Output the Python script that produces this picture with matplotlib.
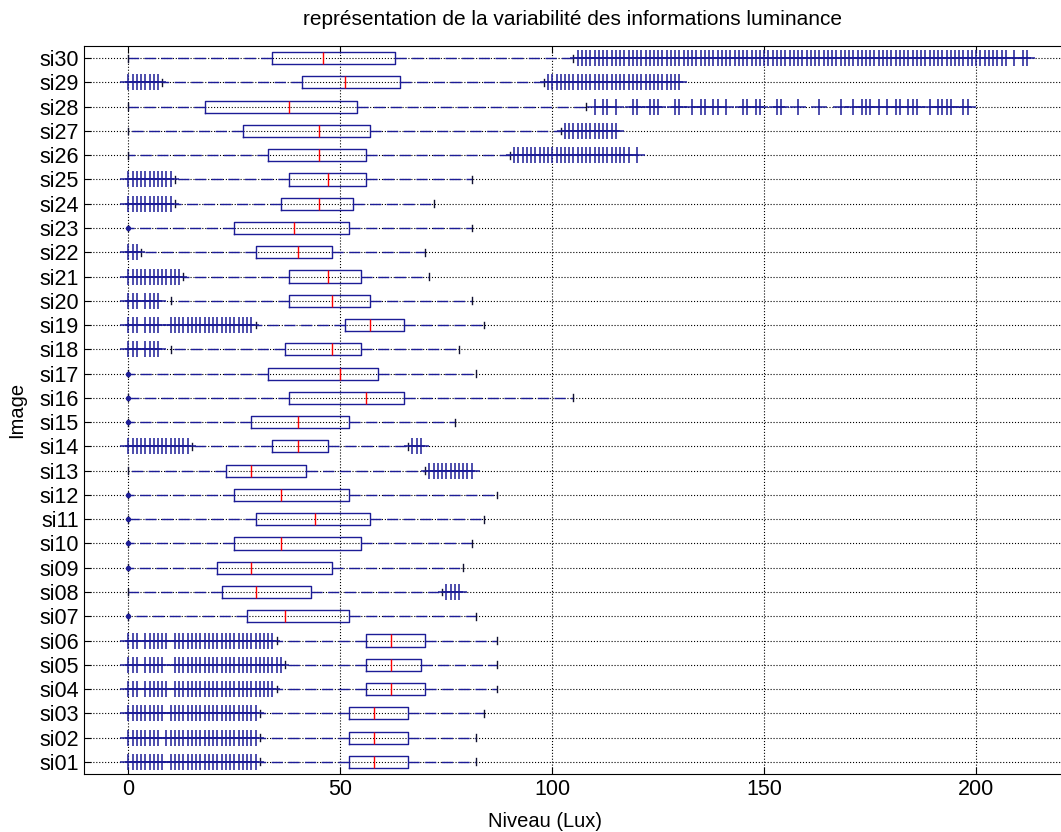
import matplotlib
matplotlib.use('Agg')
import numpy as np
import matplotlib.pyplot as plt

plt.rcParams['font.family'] = ['Liberation Sans', 'DejaVu Sans']

# one entry per image, si01 .. si30 (bottom to top)
labels = ['si%02d' % i for i in range(1, 31)]

whis_lo = [31, 31, 31, 35, 37, 35, 0, 0, 0, 0, 0, 0, 0, 15, 0,
           0, 0, 10, 30, 10, 13, 3, 0, 11, 11, 0, 0, 0, 8, 0]
q1 = [52, 52, 52, 56, 56, 56, 28, 22, 21, 25, 30, 25, 23, 34, 29,
      38, 33, 37, 51, 38, 38, 30, 25, 36, 38, 33, 27, 18, 41, 34]
med = [58, 58, 58, 62, 62, 62, 37, 30, 29, 36, 44, 36, 29, 40, 40,
       56, 50, 48, 57, 48, 47, 40, 39, 45, 47, 45, 45, 38, 51, 46]
q3 = [66, 66, 66, 70, 69, 70, 52, 43, 48, 55, 57, 52, 42, 47, 52,
      65, 59, 55, 65, 57, 55, 48, 52, 53, 56, 56, 57, 54, 64, 63]
whis_hi = [82, 82, 84, 87, 87, 87, 82, 74, 79, 81, 84, 87, 70, 66, 77,
           105, 82, 78, 84, 81, 71, 70, 81, 72, 81, 90, 102, 108, 98, 105]

# outlier levels, given as runs of consecutive integer levels (first, last)
outlier_runs = [
    [(0, 8), (10, 30)],                 # si01
    [(0, 7), (9, 30)],                  # si02
    [(0, 8), (10, 30)],                 # si03
    [(0, 2), (4, 9), (11, 34)],         # si04
    [(0, 2), (4, 8), (11, 36)],         # si05
    [(0, 2), (4, 9), (11, 34)],         # si06
    [],                                 # si07
    [(75, 78)],                         # si08
    [], [], [], [],                     # si09 - si12
    [(71, 81)],                         # si13
    [(0, 14), (67, 69)],                # si14
    [], [], [],                         # si15 - si17
    [(0, 2), (4, 7)],                   # si18
    [(0, 2), (4, 7), (10, 29)],         # si19
    [(0, 2), (4, 7)],                   # si20
    [(0, 12)],                          # si21
    [(0, 2)],                           # si22
    [],                                 # si23
    [(0, 10)],                          # si24
    [(0, 10)],                          # si25
    [(91, 118), (120, 120)],            # si26
    [(103, 115)],                       # si27
    [],                                 # si28 (listed below)
    [(0, 7), (99, 130)],                # si29
    [(106, 207), (209, 209), (211, 212)],  # si30
]
si28_outliers = [110, 112, 113, 115, 119, 120, 123, 124, 125, 129, 130, 133,
                 135, 136, 138, 139, 141, 145, 146, 148, 149, 153, 154, 158,
                 163, 168, 171, 173, 174, 175, 177, 179, 181, 182, 184, 185,
                 186, 189, 191, 192, 193, 194, 197, 198]

# rows whose lower whisker end shows a small dot at 0
zero_dot = ['si07', 'si09', 'si10', 'si11', 'si12', 'si15', 'si16', 'si17', 'si23']

blue = '#1c1c96'

stats = []
for i, name in enumerate(labels):
    fl = []
    for a, b in outlier_runs[i]:
        fl.extend(range(a, b + 1))
    if name == 'si28':
        fl = list(si28_outliers)
    stats.append(dict(label=name, whislo=whis_lo[i], q1=q1[i], med=med[i],
                      q3=q3[i], whishi=whis_hi[i], fliers=np.array(fl, float)))

fig = plt.figure(figsize=(10.61, 8.32), dpi=100)
ax = fig.add_axes([0.0792, 0.0697, 0.9208, 0.875])

ax.bxp(stats, positions=np.arange(1, 31), widths=0.5, capwidths=0.28,
       orientation='horizontal', showfliers=True,
       boxprops=dict(color=blue, linewidth=1.0),
       medianprops=dict(color='red', linewidth=1.0),
       whiskerprops=dict(color=blue, linewidth=1.0, linestyle=(0, (8, 4))),
       capprops=dict(color='#101030', linewidth=1.0),
       flierprops=dict(marker='+', markersize=11, markeredgewidth=1.1,
                       markeredgecolor=blue, linestyle='none'))

for i, name in enumerate(labels):
    if name in zero_dot:
        ax.plot(whis_lo[i], i + 1, 'o', ms=2.8, color=blue, zorder=3)

ax.set_xlim(-10.45, 220.0)
ax.set_ylim(0.5, 30.5)
ax.set_xticks([0, 50, 100, 150, 200])
ax.set_yticks(np.arange(1, 31))
ax.set_yticklabels(labels)
ax.grid(True, linestyle=':', color='k', linewidth=0.8)
ax.set_axisbelow(True)
ax.tick_params(direction='in', length=5, top=True, labelsize=15.5)
ax.spines['right'].set_visible(False)

ax.set_title('représentation de la variabilité des informations luminance',
             fontsize=15, pad=15)
ax.set_xlabel('Niveau (Lux)', fontsize=14.5)
ax.set_ylabel('Image', fontsize=14.5)
ax.xaxis.set_label_coords(0.472, -0.052)
ax.yaxis.set_label_coords(-0.059, 0.5)

fig.savefig('out.png', dpi=100)
